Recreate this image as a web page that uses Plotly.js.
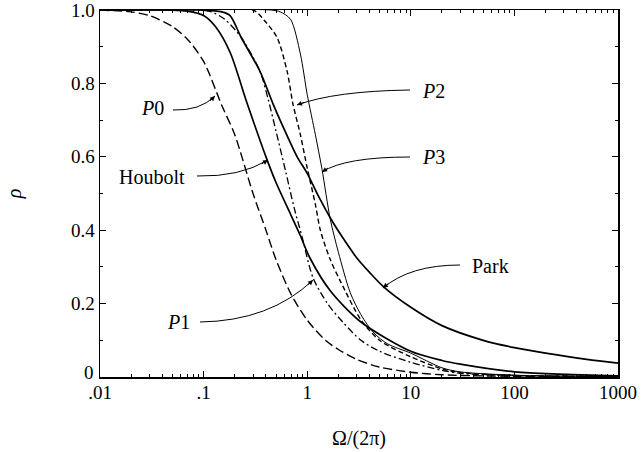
<!DOCTYPE html>
<html><head><meta charset="utf-8">
<script src="https://cdn.plot.ly/plotly-3.0.1.min.js"></script>
<style>html,body{margin:0;padding:0;background:#fff}</style>
</head><body><div id="chart" style="width:642px;height:452px"></div>
<script>
// ---- data (x = Ω/(2π), y = ρ) ----
const p0X = [0.01, 0.02, 0.03, 0.05, 0.07, 0.1, 0.15, 0.2, 0.3, 0.4, 0.5, 0.7, 1, 1.5, 2, 3, 5, 10, 20, 50, 100, 1000];
const p0Y = [1.0, 0.995, 0.985, 0.955, 0.92, 0.86, 0.74, 0.66, 0.50, 0.40, 0.32, 0.225, 0.155, 0.10, 0.075, 0.048, 0.027, 0.013, 0.006, 0.003, 0.002, 0.001];

const houboltX = [0.01, 0.05, 0.07, 0.1, 0.13, 0.18, 0.26, 0.4, 0.5, 0.7, 0.86, 1.06, 1.67, 3.3, 10, 20, 30, 100, 1000];
const houboltY = [1.0, 1.0, 0.997, 0.985, 0.955, 0.885, 0.75, 0.60, 0.53, 0.44, 0.385, 0.325, 0.235, 0.15, 0.07, 0.045, 0.035, 0.014, 0.003];

const p1X = [0.01, 0.1, 0.12, 0.16, 0.23, 0.35, 0.42, 0.5, 0.62, 0.75, 0.89, 1.14, 1.57, 2.2, 3.3, 5, 10, 20, 30, 100, 1000];
const p1Y = [1.0, 1.0, 0.995, 0.975, 0.926, 0.833, 0.757, 0.67, 0.56, 0.46, 0.383, 0.27, 0.20, 0.15, 0.10, 0.07, 0.04, 0.018, 0.01, 0.004, 0.001];

const p2X = [0.01, 0.3, 0.39, 0.51, 0.64, 0.73, 0.86, 1.0, 1.2, 1.34, 1.67, 2.1, 3.3, 5, 10, 20, 30, 100, 1000];
const p2Y = [1.0, 1.0, 0.97, 0.926, 0.833, 0.743, 0.66, 0.57, 0.47, 0.40, 0.32, 0.26, 0.156, 0.10, 0.055, 0.022, 0.012, 0.004, 0.001];

const p3X = [0.01, 0.45, 0.55, 0.69, 0.86, 1.0, 1.2, 1.39, 1.67, 2.0, 2.6, 3.3, 4.4, 6, 10, 20, 30, 100, 1000];
const p3Y = [1.0, 1.0, 0.995, 0.975, 0.88, 0.77, 0.66, 0.566, 0.43, 0.34, 0.23, 0.17, 0.12, 0.09, 0.065, 0.025, 0.014, 0.005, 0.001];

const parkX = [0.01, 0.1, 0.15, 0.18, 0.23, 0.35, 0.47, 0.6, 0.8, 1.0, 1.3, 1.7, 2.2, 3, 4, 5.5, 10, 20, 50, 100, 200, 500, 1000];
const parkY = [1.0, 1.0, 0.995, 0.985, 0.926, 0.833, 0.743, 0.675, 0.60, 0.555, 0.49, 0.43, 0.38, 0.325, 0.285, 0.245, 0.19, 0.14, 0.10, 0.08, 0.065, 0.048, 0.038];

const xTickVals = [0.01, 0.1, 1, 10, 100, 1000];
const xTickText = ['.01', '.1', '1', '10', '100', '1000'];
const yTickVals = [0, 0.2, 0.4, 0.6, 0.8, 1.0];
const yTickText = ['', '0.2', '0.4', '0.6', '0.8', '1.0'];
const yZeroLabel = '0';

// ---- layout helpers ----
const W = 642, H = 452;
const M = {l: 100, r: 24, t: 10, b: 75};
const PW = W - M.l - M.r, PH = H - M.t - M.b;
const fx = v => (v - M.l) / PW;
const fy = v => (H - M.b - v) / PH;

const minorX = [];
[0.01, 0.1, 1, 10, 100].forEach(d => { for (let k = 2; k <= 9; k++) minorX.push(k * d); });

function line(x, y, dash, width) {
  return {x: x, y: y, type: 'scatter', mode: 'lines', showlegend: false, hoverinfo: 'skip',
          line: {color: 'black', width: width, dash: dash, shape: 'spline', smoothing: 0.8}};
}
const traces = [
  line(p0X, p0Y, '9px,4px', 1.4),
  line(houboltX, houboltY, 'solid', 1.7),
  line(p1X, p1Y, '7px,3px,2px,3px', 1.3),
  line(p2X, p2Y, '5px,3px', 1.4),
  line(p3X, p3Y, 'solid', 1.0),
  line(parkX, parkY, 'solid', 1.7)
];

// label, label centre, leader start, control, tip
const labels = [
  {t: '<i>P</i>0', cx: 152, cy: 108, s: [173, 110], c: [200, 111], e: [215, 96]},
  {t: 'Houbolt', cx: 152, cy: 177, s: [197, 176], c: [240, 177], e: [268, 160]},
  {t: '<i>P</i>1', cx: 178, cy: 322, s: [200, 322], c: [270, 321], e: [313, 280]},
  {t: '<i>P</i>2', cx: 433, cy: 91, s: [410, 90], c: [335, 91], e: [297, 105]},
  {t: '<i>P</i>3', cx: 433, cy: 157, s: [410, 157], c: [345, 157], e: [322, 172]},
  {t: 'Park', cx: 490, cy: 266, s: [460, 265], c: [410, 265], e: [383, 288]}
];
const shapes = [], annotations = [];
labels.forEach(L => {
  annotations.push({xref: 'paper', yref: 'paper', x: fx(L.cx), y: fy(L.cy), text: L.t, showarrow: false,
                    xanchor: 'center', yanchor: 'middle', font: {size: 20}});
  shapes.push({type: 'path', xref: 'paper', yref: 'paper',
               path: `M ${fx(L.s[0])},${fy(L.s[1])} Q ${fx(L.c[0])},${fy(L.c[1])} ${fx(L.e[0])},${fy(L.e[1])}`,
               line: {color: 'black', width: 1}});
  const dx = L.c[0] - L.e[0], dy = L.c[1] - L.e[1], n = Math.hypot(dx, dy);
  annotations.push({xref: 'paper', yref: 'paper', x: fx(L.e[0]), y: fy(L.e[1]), text: '', showarrow: true,
                    arrowhead: 2, arrowsize: 1, arrowwidth: 1, arrowcolor: 'black',
                    ax: 9 * dx / n, ay: 9 * dy / n});
});
// y-axis "0" label placed just above the x-axis tick labels
annotations.push({xref: 'paper', yref: 'paper', x: fx(96), y: fy(372), text: yZeroLabel, showarrow: false,
                  xanchor: 'right', yanchor: 'middle', font: {size: 19}});

const layout = {
  width: W, height: H, margin: M, paper_bgcolor: 'white', plot_bgcolor: 'white',
  font: {family: '"Liberation Serif", "Times New Roman", serif', size: 19, color: 'black'},
  xaxis: {type: 'log', range: [-2, 3], tickmode: 'array', tickvals: xTickVals, ticktext: xTickText,
          ticks: 'inside', ticklen: 6, tickwidth: 1, tickcolor: 'black', showgrid: false, zeroline: false,
          showline: true, linecolor: 'black', linewidth: 1.5, mirror: 'ticks', ticklabelstandoff: -2,
          minor: {tickmode: 'array', tickvals: minorX, ticks: 'inside', ticklen: 3, tickcolor: 'black', showgrid: false},
          title: {text: 'Ω/(2π)', font: {size: 20}, standoff: 28}},
  yaxis: {range: [0, 1.0002], tickmode: 'array', tickvals: yTickVals, ticktext: yTickText, ticklabeloverflow: 'allow',
          ticks: 'inside', ticklen: 6, tickwidth: 1, tickcolor: 'black', showgrid: false, zeroline: false,
          showline: true, linecolor: 'black', linewidth: 1.5, mirror: 'ticks',
          minor: {tickmode: 'linear', tick0: 0, dtick: 0.1, ticks: 'inside', ticklen: 3, tickcolor: 'black', showgrid: false},
          title: {text: '<i>ρ</i>', font: {size: 20}, standoff: 44}},
  shapes: shapes, annotations: annotations
};
Plotly.newPlot('chart', traces, layout, {displayModeBar: false, staticPlot: true});
</script></body></html>
